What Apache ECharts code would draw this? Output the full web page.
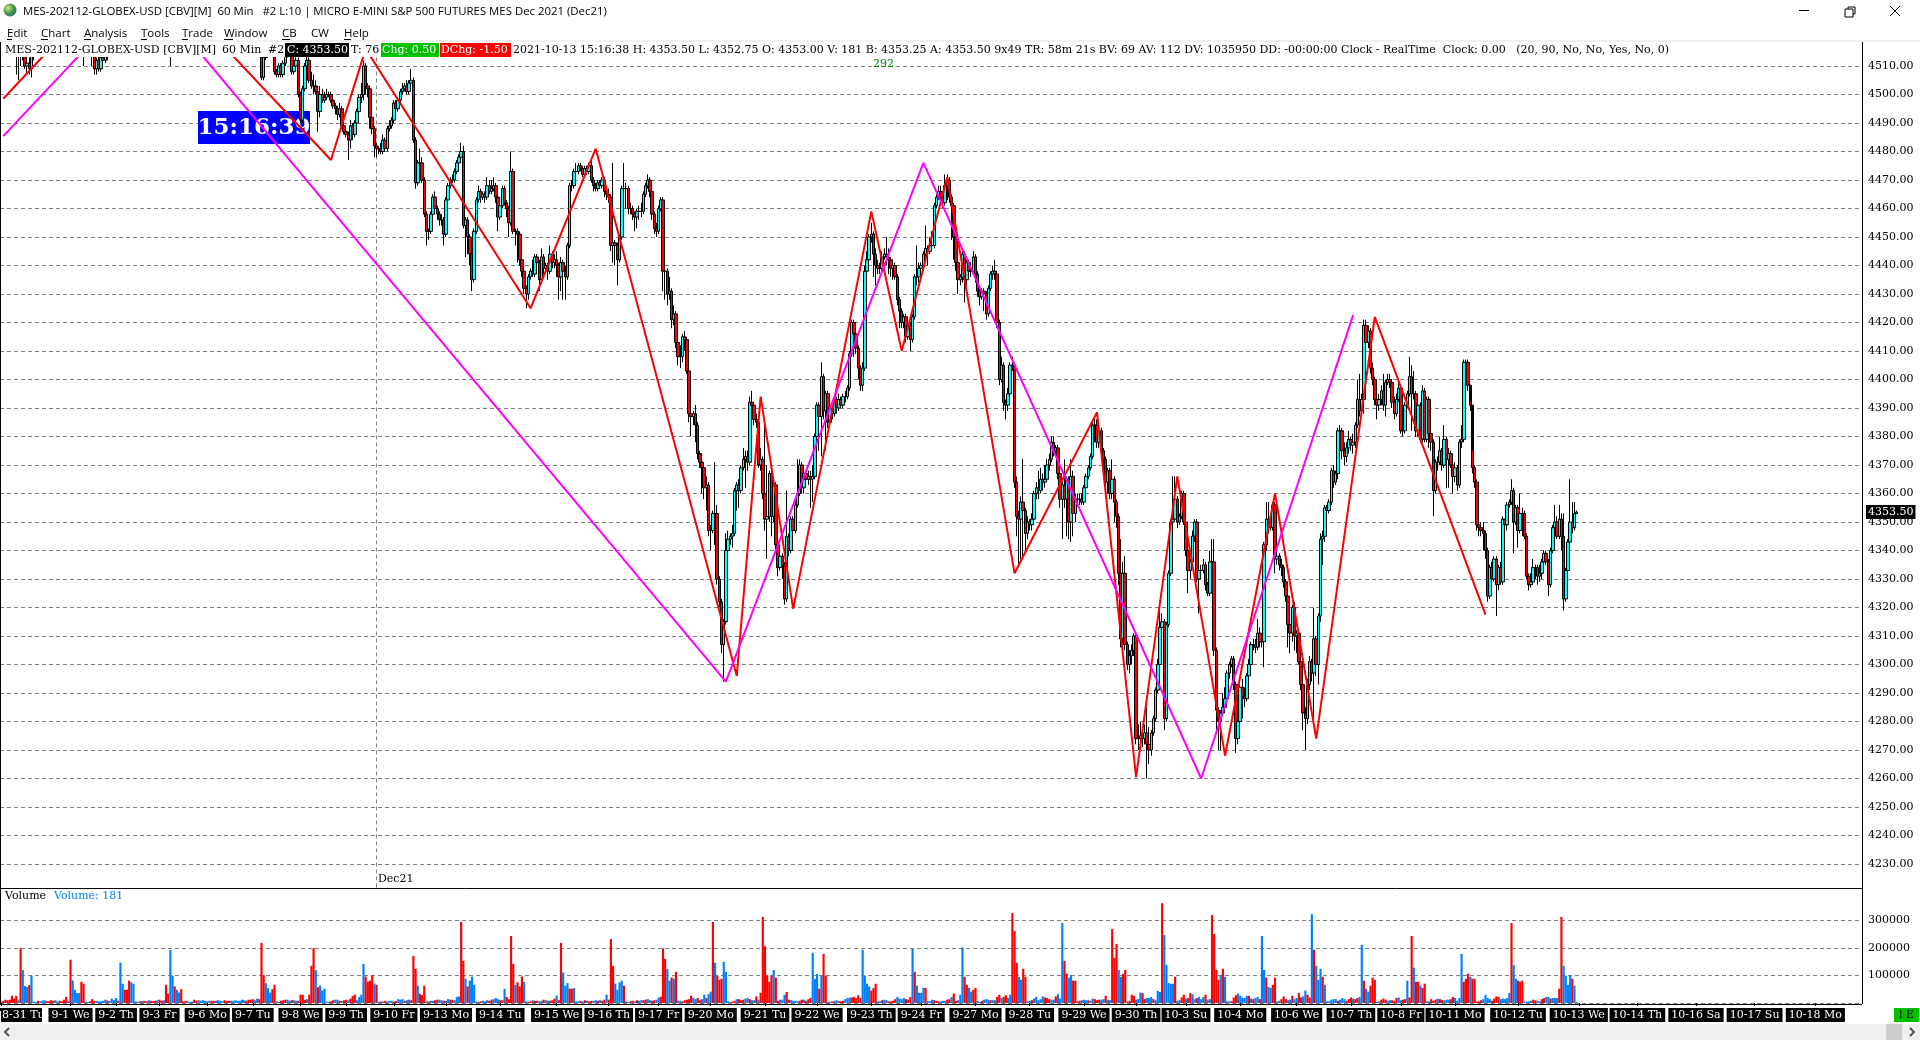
<!DOCTYPE html>
<html><head><meta charset="utf-8"><style>html,body{margin:0;padding:0;background:#fff}#c{width:1920px;height:1040px}</style>
<script src="https://cdn.jsdelivr.net/npm/echarts@6/dist/echarts.min.js"></script></head><body><div id="c"></div><script>
const gap = n => Array(n).fill(null);
const opens = [...gap(7),4520,4518,4516,4515,4514,4510,4511,4509,4514,...gap(22),4522,...gap(3),4516,4514,4509,4512,4509,4513,4512,4515,...gap(28),4522,...gap(41),
4513,4506,4513,4514,4516,4517,4518,4508,4507,4510,
4507,4511,4514,4516,4517,4508,4510,4512,4500,4491,
4502,4510,4512,4505,4503,4503,4501,4494,4500,4498,
4499,4500,4500,4498,4496,4495,4493,4495,4489,4487,
4486,4484,4489,4486,4490,4494,4499,4500,4510,4503,
4502,4492,4488,4482,4481,4481,4480,4484,4481,4488,
4489,4491,4497,4495,4498,4501,4502,4503,4501,4504,
4505,4484,4469,4476,4476,4470,4458,4452,4452,4458,
4464,4460,4458,4456,4456,4451,4463,4468,4470,4470,
4473,4476,4478,4480,4454,4456,4450,4444,4435,4452,
4463,4466,4464,4465,4464,4468,4466,4467,4468,4464,
4457,4461,4467,4462,4460,4455,4473,4452,4452,4451,
4442,4438,4432,4430,4436,4438,4437,4443,4441,4435,
4443,4439,4440,4438,4444,4441,4442,4440,4436,4441,
4438,4436,4447,4468,4468,4473,4473,4475,4474,4472,
4474,4473,4475,4470,4468,4467,4469,4468,4470,4466,
4465,4464,4447,4448,4447,4442,4450,4467,4467,4467,
4460,4460,4458,4457,4459,4459,4459,4465,4468,4470,
4466,4458,4453,4452,4460,4463,4438,4438,4430,4431,
4421,4423,4413,4408,4408,4415,4414,4403,4388,4387,
4388,4384,4374,4371,4369,4362,4363,4347,4347,4353,
4353,4330,4322,4307,4315,4340,4344,4345,4346,4361,
4363,4361,4369,4372,4373,4371,4392,4391,4386,4385,
4370,4372,4360,4351,4352,4367,4352,4363,4342,4334,
4338,4335,4323,4345,4340,4351,4347,4356,4360,4370,
4362,4367,4365,4366,4365,4366,4380,4391,4387,4401,
4389,4395,4385,4390,4388,4393,4390,4393,4391,4394,
4394,4397,4409,4420,4416,4411,4404,4398,4404,4438,
4442,4450,4451,4444,4440,4439,4439,4443,4444,4443,
4442,4439,4440,4436,4428,4424,4420,4422,4415,4419,
4414,4422,4436,4436,4439,4440,4444,4446,4445,4447,
4447,4461,4464,4466,4464,4462,4468,4470,4464,4461,
4450,4441,4435,4436,4444,4435,4441,4438,4438,4443,
4437,4431,4429,4431,4430,4423,4432,4437,4438,4437,
4420,4400,4405,4392,4391,4395,4405,4405,4364,4352,
4351,4357,4354,4346,4350,4349,4351,4360,4362,4361,
4365,4364,4365,4370,4372,4378,4375,4376,4367,4358,
4363,4358,4365,4350,4366,4353,4358,4358,4358,4357,
4362,4366,4369,4373,4384,4384,4378,4382,4375,4372,
4364,4368,4360,4365,4357,4352,4332,4309,4332,4307,
4300,4303,4305,4310,4274,4274,4275,4274,4276,4272,
4270,4276,4281,4291,4300,4313,4315,4281,4314,4332,
4350,4351,4358,4350,4352,4360,4350,4340,4333,4336,
4345,4350,4330,4333,4333,4335,4328,4325,4336,4336,
4305,4284,4280,4283,4285,4288,4297,4300,4302,4293,
4274,4280,4292,4289,4288,4296,4300,4307,4307,4306,
4311,4308,4308,4342,4351,4350,4348,4356,4337,4338,
4335,4334,4329,4324,4314,4311,4320,4310,4311,4301,
4293,4283,4281,4293,4301,4297,4309,4300,4317,4344,
4345,4355,4354,4357,4368,4364,4367,4382,4382,4375,
4373,4376,4379,4377,4378,4384,4393,4389,4393,4419,
4413,4417,4404,4400,4393,4391,4393,4396,4391,4399,
4400,4399,4392,4388,4393,4397,4382,4382,4391,4395,
4401,4395,4395,4382,4391,4379,4396,4379,4393,4381,
4378,4361,4371,4371,4375,4370,4379,4372,4374,4370,
4366,4369,4363,4378,4379,4406,4406,4398,4391,4369,
4364,4349,4348,4347,4346,4340,4324,4334,4330,4337,
4328,4334,4329,4351,4349,4356,4357,4361,4350,4355,
4347,4353,4353,4345,4331,4328,4329,4334,4334,4331,
4332,4336,4339,4336,4328,4340,4348,4350,4345,4351,
4345,4323,4333,4343,4350,4348,4353];
const closes = [...gap(7),4517,4515,4514,4514,4510,4511,4509,4514,4516,...gap(22),4522,...gap(3),4514,4509,4512,4509,4513,4512,4515,4518,...gap(28),4522,...gap(41),
4506,4513,4514,4516,4517,4518,4508,4507,4510,4507,
4511,4514,4516,4517,4508,4510,4512,4500,4491,4502,
4510,4512,4505,4503,4503,4501,4494,4500,4498,4499,
4500,4500,4498,4496,4495,4493,4495,4489,4487,4486,
4484,4489,4486,4490,4494,4499,4500,4510,4503,4502,
4492,4488,4482,4481,4481,4480,4484,4481,4488,4489,
4491,4497,4495,4498,4501,4502,4503,4501,4504,4505,
4484,4469,4476,4476,4470,4458,4452,4452,4458,4464,
4460,4458,4456,4456,4451,4463,4468,4470,4470,4473,
4476,4478,4480,4454,4456,4450,4444,4435,4452,4463,
4466,4464,4465,4464,4468,4466,4467,4468,4464,4457,
4461,4467,4462,4460,4455,4473,4452,4452,4451,4442,
4438,4432,4430,4436,4438,4437,4443,4441,4435,4443,
4439,4440,4438,4444,4441,4442,4440,4436,4441,4438,
4436,4447,4468,4468,4473,4473,4475,4474,4472,4474,
4473,4475,4470,4468,4467,4469,4468,4470,4466,4465,
4464,4447,4448,4447,4442,4450,4467,4467,4467,4460,
4460,4458,4457,4459,4459,4459,4465,4468,4470,4466,
4458,4453,4452,4460,4463,4438,4438,4430,4431,4421,
4423,4413,4408,4408,4415,4414,4403,4388,4387,4388,
4384,4374,4371,4369,4362,4363,4347,4347,4353,4353,
4330,4322,4307,4315,4340,4344,4345,4346,4361,4363,
4361,4369,4372,4373,4371,4392,4391,4386,4385,4370,
4372,4360,4351,4352,4367,4352,4363,4342,4334,4338,
4335,4323,4345,4340,4351,4347,4356,4360,4370,4362,
4367,4365,4366,4365,4366,4380,4391,4387,4401,4389,
4395,4385,4390,4388,4393,4390,4393,4391,4394,4394,
4397,4409,4420,4416,4411,4404,4398,4404,4438,4442,
4450,4451,4444,4440,4439,4439,4443,4444,4443,4442,
4439,4440,4436,4428,4424,4420,4422,4415,4419,4414,
4422,4436,4436,4439,4440,4444,4446,4445,4447,4447,
4461,4464,4466,4464,4462,4468,4470,4464,4461,4450,
4441,4435,4436,4444,4435,4441,4438,4438,4443,4437,
4431,4429,4431,4430,4423,4432,4437,4438,4437,4420,
4400,4405,4392,4391,4395,4405,4405,4364,4352,4351,
4357,4354,4346,4350,4349,4351,4360,4362,4361,4365,
4364,4365,4370,4372,4378,4375,4376,4367,4358,4363,
4358,4365,4350,4366,4353,4358,4358,4358,4357,4362,
4366,4369,4373,4384,4384,4378,4382,4375,4372,4364,
4368,4360,4365,4357,4352,4332,4309,4332,4307,4300,
4303,4305,4310,4274,4274,4275,4274,4276,4272,4270,
4276,4281,4291,4300,4313,4315,4281,4314,4332,4350,
4351,4358,4350,4352,4360,4350,4340,4333,4336,4345,
4350,4330,4333,4333,4335,4328,4325,4336,4336,4305,
4284,4280,4283,4285,4288,4297,4300,4302,4293,4274,
4280,4292,4289,4288,4296,4300,4307,4307,4306,4311,
4308,4308,4342,4351,4350,4348,4356,4337,4338,4335,
4334,4329,4324,4314,4311,4320,4310,4311,4301,4293,
4283,4281,4293,4301,4297,4309,4300,4317,4344,4345,
4355,4354,4357,4368,4364,4367,4382,4382,4375,4373,
4376,4379,4377,4378,4384,4393,4389,4393,4419,4413,
4417,4404,4400,4393,4391,4393,4396,4391,4399,4400,
4399,4392,4388,4393,4397,4382,4382,4391,4395,4401,
4395,4395,4382,4391,4379,4396,4379,4393,4381,4378,
4361,4371,4371,4375,4370,4379,4372,4374,4370,4366,
4369,4363,4378,4379,4406,4406,4398,4391,4369,4364,
4349,4348,4347,4346,4340,4324,4334,4330,4337,4328,
4334,4329,4351,4349,4356,4357,4361,4350,4355,4347,
4353,4353,4345,4331,4328,4329,4334,4334,4331,4332,
4336,4339,4336,4328,4340,4348,4350,4345,4351,4345,
4323,4333,4343,4350,4348,4353,4353.5];
const highs = [...gap(7),4522,4520,4518,4517,4516,4513,4513,4515,4518,...gap(22),4524,...gap(3),4518,4516,4513,4514,4514,4514,4516,4519,...gap(28),4524,...gap(41),
4514,4514,4515,4517,4518,4519,4519,4509,4511,4511,
4512,4515,4517,4518,4518,4511,4513,4513,4501,4503,
4511,4514,4513,4508,4507,4505,4502,4503,4502,4501,
4502,4501,4501,4500,4497,4496,4497,4496,4491,4489,
4487,4491,4490,4491,4495,4500,4504,4512,4511,4504,
4503,4493,4489,4483,4482,4483,4486,4485,4489,4491,
4492,4498,4498,4499,4502,4504,4504,4505,4505,4509,
4506,4485,4477,4481,4478,4471,4459,4453,4459,4465,
4466,4461,4459,4458,4457,4464,4469,4471,4472,4474,
4477,4479,4483,4482,4457,4457,4451,4445,4453,4464,
4468,4467,4466,4466,4471,4470,4470,4471,4469,4465,
4463,4468,4468,4463,4461,4480,4474,4453,4453,4452,
4443,4439,4433,4437,4439,4442,4444,4444,4442,4446,
4444,4441,4441,4447,4445,4444,4445,4441,4443,4442,
4440,4448,4469,4470,4474,4476,4476,4476,4475,4475,
4475,4476,4477,4471,4469,4470,4470,4471,4471,4468,
4467,4465,4476,4449,4448,4451,4468,4476,4469,4468,
4462,4461,4459,4460,4461,4462,4466,4469,4472,4471,
4467,4459,4455,4461,4464,4464,4441,4439,4436,4432,
4426,4424,4414,4412,4416,4417,4415,4404,4391,4389,
4391,4385,4375,4372,4370,4366,4364,4349,4354,4371,
4356,4331,4323,4316,4346,4347,4346,4349,4362,4364,
4365,4370,4376,4375,4375,4394,4396,4392,4388,4386,
4376,4373,4384,4370,4368,4368,4364,4364,4343,4339,
4339,4336,4361,4346,4352,4352,4358,4372,4372,4371,
4370,4368,4368,4368,4370,4381,4392,4392,4406,4402,
4396,4396,4391,4391,4395,4394,4395,4394,4395,4396,
4398,4410,4421,4421,4417,4412,4405,4406,4440,4445,
4451,4455,4452,4446,4442,4441,4445,4446,4450,4446,
4443,4441,4441,4437,4429,4425,4423,4423,4420,4420,
4423,4437,4447,4441,4441,4445,4454,4447,4450,4452,
4462,4465,4468,4468,4465,4472,4472,4471,4465,4462,
4451,4442,4437,4446,4445,4443,4442,4440,4445,4444,
4438,4433,4432,4432,4431,4433,4438,4440,4442,4438,
4421,4408,4406,4393,4397,4406,4408,4406,4366,4354,
4359,4372,4355,4352,4351,4353,4361,4364,4368,4369,
4367,4370,4372,4374,4380,4380,4377,4377,4368,4364,
4372,4366,4366,4372,4368,4360,4360,4360,4360,4363,
4367,4370,4374,4385,4387,4386,4383,4383,4376,4373,
4369,4369,4372,4366,4358,4353,4344,4336,4338,4308,
4305,4307,4311,4311,4279,4280,4276,4279,4285,4278,
4277,4282,4292,4302,4321,4318,4316,4315,4333,4351,
4366,4366,4359,4353,4361,4361,4351,4341,4337,4347,
4351,4351,4335,4335,4337,4336,4329,4340,4344,4344,
4306,4285,4284,4290,4292,4298,4301,4303,4303,4294,
4283,4293,4295,4292,4297,4302,4308,4309,4309,4316,
4313,4310,4343,4357,4357,4352,4357,4357,4341,4339,
4337,4335,4330,4325,4316,4321,4322,4312,4312,4302,
4295,4285,4295,4303,4302,4320,4310,4318,4346,4347,
4356,4356,4358,4369,4370,4368,4383,4384,4383,4378,
4378,4382,4380,4381,4385,4400,4402,4395,4421,4421,
4419,4418,4406,4401,4396,4395,4398,4402,4400,4402,
4402,4400,4394,4395,4400,4398,4384,4392,4396,4408,
4405,4403,4396,4392,4392,4398,4397,4394,4394,4387,
4379,4372,4373,4380,4376,4384,4380,4376,4375,4371,
4371,4370,4379,4384,4407,4407,4407,4392,4375,4370,
4365,4350,4350,4350,4347,4341,4335,4336,4338,4338,
4335,4336,4352,4351,4357,4358,4365,4362,4356,4356,
4360,4355,4354,4346,4332,4332,4337,4335,4335,4335,
4337,4340,4340,4337,4341,4349,4356,4352,4356,4353,
4353,4334,4344,4365,4357,4357,4354];
const lows = [...gap(7),4507,4505,4510,4512,4509,4507,4507,4506,4512,...gap(22),4510,...gap(3),4510,4507,4507,4508,4508,4510,4511,4512,...gap(28),4510,...gap(41),
4505,4505,4512,4513,4515,4516,4507,4506,4506,4506,
4506,4510,4513,4515,4507,4507,4509,4499,4490,4490,
4501,4508,4504,4502,4500,4500,4487,4492,4497,4497,
4498,4499,4497,4495,4493,4491,4492,4488,4486,4485,
4477,4481,4484,4485,4489,4493,4497,4498,4500,4499,
4488,4486,4478,4478,4479,4479,4479,4480,4480,4487,
4488,4490,4494,4494,4497,4500,4501,4500,4500,4503,
4483,4467,4468,4474,4469,4457,4447,4449,4451,4456,
4458,4456,4454,4454,4447,4450,4462,4467,4469,4469,
4472,4475,4477,4453,4443,4444,4440,4431,4434,4451,
4462,4462,4463,4462,4463,4465,4465,4466,4462,4452,
4456,4460,4461,4457,4450,4454,4451,4447,4441,4440,
4436,4430,4425,4428,4435,4436,4436,4438,4431,4434,
4437,4438,4435,4437,4439,4439,4436,4428,4431,4428,
4428,4435,4446,4466,4467,4471,4472,4473,4471,4471,
4472,4472,4469,4466,4466,4466,4467,4467,4464,4463,
4462,4445,4441,4440,4433,4441,4449,4465,4460,4458,
4458,4456,4452,4453,4456,4457,4458,4464,4467,4464,
4456,4451,4450,4451,4459,4431,4428,4426,4428,4418,
4419,4411,4405,4404,4406,4410,4402,4385,4380,4384,
4378,4372,4369,4360,4358,4354,4345,4340,4346,4342,
4328,4320,4304,4294,4314,4339,4342,4341,4345,4354,
4355,4360,4368,4362,4368,4370,4385,4384,4383,4369,
4368,4358,4347,4337,4350,4345,4350,4340,4331,4333,
4330,4321,4322,4338,4339,4345,4346,4355,4359,4360,
4360,4362,4363,4355,4357,4365,4379,4375,4373,4386,
4375,4383,4384,4386,4387,4388,4389,4390,4390,4392,
4393,4396,4408,4408,4409,4400,4396,4396,4403,4434,
4441,4448,4436,4433,4437,4437,4437,4442,4440,4437,
4436,4435,4435,4426,4418,4418,4418,4413,4414,4410,
4413,4421,4433,4434,4437,4438,4443,4440,4444,4445,
4446,4460,4463,4462,4460,4461,4463,4462,4449,4442,
4438,4430,4433,4434,4427,4433,4436,4436,4437,4434,
4429,4426,4428,4424,4421,4422,4431,4435,4435,4418,
4398,4399,4389,4386,4389,4394,4403,4362,4345,4335,
4337,4337,4340,4344,4347,4347,4350,4358,4358,4360,
4361,4362,4364,4368,4371,4373,4373,4365,4355,4344,
4355,4345,4344,4343,4345,4350,4356,4356,4356,4356,
4361,4365,4368,4372,4378,4376,4376,4374,4366,4362,
4360,4358,4358,4350,4348,4328,4306,4304,4305,4298,
4297,4300,4303,4272,4270,4272,4271,4272,4260,4265,
4268,4275,4280,4290,4299,4312,4277,4280,4313,4331,
4349,4350,4348,4349,4351,4349,4338,4325,4330,4334,
4343,4329,4318,4331,4332,4326,4324,4324,4334,4303,
4277,4270,4270,4283,4284,4286,4295,4299,4291,4269,
4272,4279,4281,4285,4287,4295,4298,4305,4304,4305,
4306,4306,4299,4340,4346,4347,4347,4332,4335,4333,
4331,4327,4322,4306,4304,4308,4305,4304,4300,4291,
4277,4270,4279,4291,4294,4280,4296,4293,4315,4335,
4343,4352,4353,4356,4362,4363,4365,4380,4372,4370,
4371,4374,4375,4374,4376,4383,4387,4388,4388,4411,
4411,4402,4398,4391,4386,4389,4391,4389,4387,4398,
4397,4390,4386,4387,4392,4381,4380,4381,4390,4394,
4382,4393,4380,4380,4378,4378,4378,4378,4376,4375,
4352,4360,4368,4370,4368,4369,4362,4362,4369,4360,
4364,4361,4362,4376,4378,4404,4396,4389,4367,4362,
4347,4345,4345,4340,4337,4322,4323,4327,4329,4317,
4326,4328,4328,4348,4347,4355,4356,4339,4349,4341,
4346,4345,4344,4330,4326,4327,4328,4330,4328,4329,
4330,4335,4335,4324,4327,4339,4347,4344,4344,4340,
4319,4322,4332,4342,4346,4347,4352.75];
const volumesK = [
5,8,12,10,12,26,16,26,10,
199,120,62,58,65,100,5,3,8,6,9,10,7,6,10,8,10,6,8,6,12,22,8,
157,82,48,36,36,77,70,5,3,6,14,8,7,6,6,8,12,9,7,16,10,18,8,
146,70,48,48,81,75,70,6,4,6,8,8,6,10,8,6,8,10,12,8,10,66,34,
193,99,60,48,38,50,6,8,6,4,5,12,9,10,8,10,8,6,8,8,8,8,10,8,6,10,8,8,8,8,10,8,8,12,10,8,12,12,14,10,16,14,
218,101,72,54,38,50,66,6,4,8,10,12,12,8,10,10,8,8,30,30,12,14,30,135,
199,120,57,63,45,52,5,4,6,10,12,12,8,7,10,12,10,16,26,30,10,22,30,
142,96,77,81,101,70,66,4,6,5,8,6,8,8,5,7,14,12,14,8,10,12,10,
171,124,63,33,29,63,6,6,8,8,10,12,12,10,8,8,14,12,12,10,22,24,
294,153,88,60,81,96,66,5,4,6,8,6,10,8,12,14,18,14,10,10,52,22,14,
243,142,66,75,60,96,77,6,4,6,10,8,8,6,8,12,10,8,8,10,16,27,10,
218,111,63,72,52,52,54,5,6,8,6,10,8,6,8,8,10,8,10,8,12,30,12,
232,135,70,48,75,81,63,6,4,6,8,6,10,8,10,10,12,14,10,8,10,12,20,22,
198,160,124,81,92,88,113,8,8,6,10,12,14,26,18,14,18,10,14,30,18,32,41,
294,146,99,84,88,149,113,6,3,5,8,14,14,10,12,16,18,14,10,10,24,12,37,
312,206,101,77,99,120,92,8,12,12,30,40,12,10,8,8,6,8,12,12,8,14,18,
182,87,105,52,99,178,99,4,4,6,8,10,6,6,8,14,18,20,20,22,18,28,18,
193,99,70,60,45,54,70,6,6,10,12,10,6,6,8,14,22,16,14,18,14,12,22,
196,113,63,37,37,55,55,6,6,12,10,8,6,6,8,8,12,14,22,34,8,10,30,
202,95,66,55,41,48,55,8,4,8,12,14,12,10,10,10,22,30,18,22,28,18,30,
326,261,146,95,84,124,95,6,8,10,16,22,10,14,24,20,18,14,10,12,24,32,16,
290,153,106,92,101,81,81,6,8,10,12,10,10,8,16,14,10,12,12,14,26,12,10,
268,164,214,120,95,106,120,6,8,30,26,12,14,38,36,14,18,18,22,14,10,44,40,
362,247,138,72,70,70,95,8,10,20,30,16,18,36,32,14,18,22,14,22,30,12,14,
319,250,120,84,102,124,95,6,6,6,20,28,34,26,20,18,26,26,16,14,18,22,14,
243,120,92,58,55,66,92,6,8,14,24,14,10,12,26,14,18,36,20,24,45,30,20,
322,193,135,84,124,95,66,6,6,12,14,14,8,12,18,14,8,14,20,16,14,18,22,
211,81,52,41,63,92,84,4,6,12,16,12,8,10,10,8,18,20,10,12,14,81,20,
243,128,77,77,63,55,70,6,6,14,8,12,16,14,10,10,12,12,14,22,18,8,18,
178,77,88,106,95,88,88,5,5,10,14,30,18,14,8,16,24,22,14,16,14,18,36,
290,138,88,81,77,81,5,5,6,8,12,10,8,6,14,18,22,22,16,18,18,18,52,
312,135,99,66,101,88,63,3];
const volumeDirs = [
"rrrrrrrrb",
"rbbbrbbbrbbbrrrrbbrrrrb",
"rbbbbrrbbrrrbbbbbrbbbbr",
"bbrrrbbbbrbrrbrrrbrrbrr",
"bbrbbrrrbbbrrbbbbbbrrbbbbrrrbbbbbbbrrrrbbr",
"rrbbbrrbbrrrbbrbbrrrrbrr",
"rbrbbbbbrrbbrbrrbrrrbbb",
"brrrrbrbbrrbbbrrbbbrbbr",
"rrbrrrbrbbrrbbrbbrrbbb",
"rrbrbbbbrrbbbrrbbbrrbrr",
"rrbrrrbbrrbrrbbrbbrrrbr",
"rbbbrrbbbrbrbrrbbrbrrbr",
"rrbbbbrbbrrbrbbrrbbrrbbr",
"rrbbrbrbbrrrrrbbrrbbrbb",
"rbrrrbbbbrrbrrrbbrbbrbr",
"rrrrrbrrbbbrrbbbbrrbrrr",
"bbbrbrrbbrbbrrrbbbrrrrr",
"bbbbrrrbbrbbrrrrbbbbrrr",
"brbbbbrbbbrrrbbbrrbrrbb",
"brrbbrrbbrbbbrbbrrbrrbb",
"rrrbbrrbbrbbbbbrrrbbrbb",
"brrbbrrrrbbbrbbrrrbbrbb",
"rrrbbrrbrrrbbbrrbbbrbbb",
"rbbbbbrbbrrbrrbbrbbbrbb",
"rrrrbrbbbrrrbbbbbrbrbbr",
"bbrbbrrbbrrrbbrbbrrbbrr",
"brbbbrbbbbbbrbbbrrrbrrb",
"brbbrrrbbrrrbbrrrbbrrbr",
"rbrrbrrbbrrrbrrbbbrrbbb",
"brrrbrrrrrbbbbrrrrbbbbb",
"rbbrrrbbbbrrbbrrbbrbbbr",
"rbbbbrbb"].join('');
const gridPrices = [4230,4510];
const zigRedBars = [1,63,152,168,244,274,339,350,365,401,415,436,467,505,523,542,564,587,606,633,684];
const zigRedPrices = [4498.5,4549,4477,4516,4425,4481,4296,4394,4319.5,4459,4410,4471,4332,4388.5,4260.5,4366,4268,4360,4274,4422,4317.5];
const zigMagentaBars = [1,66,334,425,553,623];
const zigMagentaPrices = [4485.4,4538,4294,4476,4260,4422.6];
const firstTickLabel = "8-31 Tu";
const tickBars = [0,32,53,73,95,116,138,159,181,205,230,256,280,303,327,352,376,401,424,449,474,499,523,546,571,597,622,645,670,699,727,754,781,808,836];
const tickLabels = ["","9-1 We","9-2 Th","9-3 Fr","9-6 Mo","9-7 Tu","9-8 We","9-9 Th","9-10 Fr","9-13 Mo","9-14 Tu","9-15 We","9-16 Th","9-17 Fr","9-20 Mo","9-21 Tu","9-22 We","9-23 Th","9-24 Fr","9-27 Mo","9-28 Tu","9-29 We","9-30 Th","10-3 Su","10-4 Mo","10-6 We","10-7 Th","10-8 Fr","10-11 Mo","10-12 Tu","10-13 We","10-14 Th","10-16 Sa","10-17 Su","10-18 Mo"];
const contractBar = 173, lastPrice = 4353.5, totalSlots = 858;

const SERIF = '"DejaVu Serif"', SANS = '"Open Sans"';
const cats = Array.from({length: totalSlots}, (_, i) => { const k = tickBars.indexOf(i); return k >= 0 ? tickLabels[k] : ''; });
const tickSet = new Set(tickBars);
const candles = opens.map((o, i) => o == null ? ['-','-','-','-'] : [o, closes[i], lows[i], highs[i]]);
const vols = volumesK.map((v, i) => ({value: v * 1000, itemStyle: {color: volumeDirs[i] === 'r' ? '#ff0000' : '#0080ff'}}));
const pairs = (b, p) => b.map((x, i) => [x, p[i]]);

function txt(x, y, text, font, fill, extra) { return {type:'text', z:60, x, y, style:Object.assign({text, font, fill, verticalAlign:'middle'}, extra||{})}; }
function box(x, y, w, h, fill, z) { return {type:'rect', z:z==null?55:z, shape:{x,y,width:w,height:h}, style:{fill}}; }
function ln(x1, y1, x2, y2, c, w) { return {type:'line', z:58, shape:{x1,y1,x2,y2}, style:{stroke:c||'#000', lineWidth:w||1}}; }
const F = '11px ' + SERIF, M = '11.5px ' + SANS;
const menu = [["Edit",7,5],["Chart",41,7],["Analysis",84,7],["Tools",141,6],["Trade",182,6],["Window",224,9],["CB",282,8],["CW",311,0],["Help",344,7]];
const graphics = [
  box(0,0,1920,57,'#fff',50),
  box(0,40,1920,2,'#f0f0f0',51),
  {type:'circle', z:60, shape:{cx:10,cy:10,r:6.5}, style:{fill:new echarts.graphic.RadialGradient(0.35,0.35,0.8,[{offset:0,color:'#cfe88a'},{offset:0.5,color:'#4c9a4a'},{offset:1,color:'#1c5f8a'}])}},
  txt(23,12,'MES-202112-GLOBEX-USD [CBV][M]  60 Min   #2 L:10 | MICRO E-MINI S&P 500 FUTURES MES Dec 2021 (Dec21)','11.4px '+SANS,'#000'),
  ...menu.map(m => txt(m[1],33.5,m[0],M,'#000')),
  ...menu.filter(m=>m[2]).map(m => ln(m[1],39.5,m[1]+m[2],39.5,'#000',1)),
  ln(1799,10.5,1809,10.5,'#000',1),
  {type:'rect',z:60,shape:{x:1845,y:9,width:8,height:8},style:{fill:'none',stroke:'#000'}},
  {type:'polyline',z:60,shape:{points:[[1848,9],[1848,7],[1855,7],[1855,14],[1853,14]]},style:{fill:'none',stroke:'#000'}},
  ln(1890,6,1900,16,'#000',1), ln(1890,16,1900,6,'#000',1),
  txt(5,50.5,'MES-202112-GLOBEX-USD [CBV][M]',F,'#000'),
  txt(222,50.5,'60 Min',F,'#000'),
  txt(268,50.5,'#2',F,'#000'),
  box(285,43,64,14,'#000',55), txt(287,50.5,'C: 4353.50',F,'#fff'),
  txt(351,50.5,'T: 76',F,'#000'),
  box(381,43,58,14,'#00c000',55), txt(382,50.5,'Chg: 0.50',F,'#fff'),
  box(440,43,71,14,'#ff0000',55), txt(441,50.5,'DChg: -1.50',F,'#fff'),
  txt(513,50.5,'2021-10-13 15:16:38 H: 4353.50 L: 4352.75 O: 4353.00 V: 181 B: 4353.25 A: 4353.50 9x49 TR: 58m 21s BV: 69 AV: 112 DV: 1035950 DD: -00:00:00 Clock - RealTime  Clock: 0.00   (20, 90, No, No, Yes, No, 0)',F,'#000'),
  txt(883.5,64.5,'292',F,'#008000',{align:'center'}),
  {type:'rect',z:1,shape:{x:198,y:111,width:112,height:33},style:{fill:'#0000ff'}},
  {type:'text',z:1,x:254,y:128,style:{text:'15:16:39',font:'bold 23px '+SERIF,fill:'#fff',align:'center',verticalAlign:'middle'}},
  ln(0.5,42,0.5,1004), ln(1862.5,42,1862.5,1004),
  ln(0,888.5,1862,888.5), ln(0,1004.5,1862,1004.5),
  txt(378,879,'Dec21',F,'#000'),
  txt(5,896,'Volume',F,'#000'), txt(54,896,'Volume: 181',F,'#0080ff'),
  box(1,1008,41,14,'#000',55), txt(2,1015.5,firstTickLabel,F,'#fff'),
  box(1894,1008,25,14,'#00c000',55), txt(1906.5,1015,'l E',F,'#000',{align:'center'}),
  box(0,1024,1920,16,'#f0f0f0',50),
  box(1886,1024,16,16,'#cdcdcd',55),
  {type:'polyline',z:60,shape:{points:[[9,1028],[5,1032],[9,1036]]},style:{fill:'none',stroke:'#555',lineWidth:2}},
  {type:'polyline',z:60,shape:{points:[[1910,1028],[1914,1032],[1910,1036]]},style:{fill:'none',stroke:'#555',lineWidth:2}},
];
const dashed = {show:true, lineStyle:{color:'#808080', type:[4,3], width:1}};
const option = {
  animation:false, backgroundColor:'#fff', textStyle:{fontFamily:SERIF},
  grid:[{left:0,width:1862,top:66,height:798,outerBoundsMode:'none'},{left:0,width:1862,top:920.3,height:82.7,outerBoundsMode:'none'}],
  xAxis:[
    {type:'category',gridIndex:0,data:cats,boundaryGap:true,show:false},
    {type:'category',gridIndex:1,data:cats,boundaryGap:true,axisLine:{show:false},
      axisTick:{show:true,alignWithLabel:true,length:3,interval:(i)=>tickSet.has(i),lineStyle:{color:'#000'}},
      axisLabel:{show:true,interval:(i)=>tickSet.has(i),color:'#fff',backgroundColor:'#000',padding:[2,3,1,3],margin:5,fontSize:11,fontFamily:SERIF,hideOverlap:false,showMinLabel:true},splitLine:{show:false}}
  ],
  yAxis:[
    {type:'value',gridIndex:0,position:'right',min:gridPrices[0],max:gridPrices[1],interval:10,splitLine:dashed,axisLine:{show:false},axisTick:{show:false},
      axisLabel:{color:'#000',fontSize:11,fontFamily:SERIF,margin:6,formatter:v=>v.toFixed(2)}},
    {type:'value',gridIndex:1,position:'right',min:0,max:300000,interval:100000,splitLine:dashed,axisLine:{show:false},axisTick:{show:false},
      axisLabel:{color:'#000',fontSize:11,fontFamily:SERIF,margin:6,showMinLabel:false,formatter:v=>String(v)}}
  ],
  graphic:graphics,
  series:[
    {type:'line',name:'contract',xAxisIndex:0,yAxisIndex:0,z:1,clip:false,showSymbol:false,silent:true,data:[[contractBar,4513],[contractBar,4221.6]],lineStyle:{color:'#808080',type:[4,3],width:1}},
    {type:'candlestick',name:'MES',xAxisIndex:0,yAxisIndex:0,z:2,clip:false,large:false,progressive:0,barWidth:3,data:candles,
      itemStyle:{color:'#00ffff',color0:'#ff0000',borderColor:'#000',borderColor0:'#000',borderWidth:1},
      markLine:{silent:true,symbol:'none',animation:false,z:40,data:[{yAxis:lastPrice}],lineStyle:{color:'transparent',width:0},
        label:{show:true,position:'end',distance:4,formatter:lastPrice.toFixed(2),color:'#fff',backgroundColor:'#000',padding:[2,2,1,2],fontSize:11,fontFamily:SERIF}}},
    {type:'line',name:'zigRed',xAxisIndex:0,yAxisIndex:0,z:3,clip:false,showSymbol:false,data:pairs(zigRedBars,zigRedPrices),lineStyle:{color:'#ff0000',width:2}},
    {type:'line',name:'zigMagenta',xAxisIndex:0,yAxisIndex:0,z:3,clip:false,showSymbol:false,data:pairs(zigMagentaBars,zigMagentaPrices),lineStyle:{color:'#ff00ff',width:2}},
    {type:'bar',name:'Volume',xAxisIndex:1,yAxisIndex:1,z:2,clip:false,barWidth:'100%',data:vols}
  ]
};
echarts.init(document.getElementById('c')).setOption(option);
</script></body></html>
